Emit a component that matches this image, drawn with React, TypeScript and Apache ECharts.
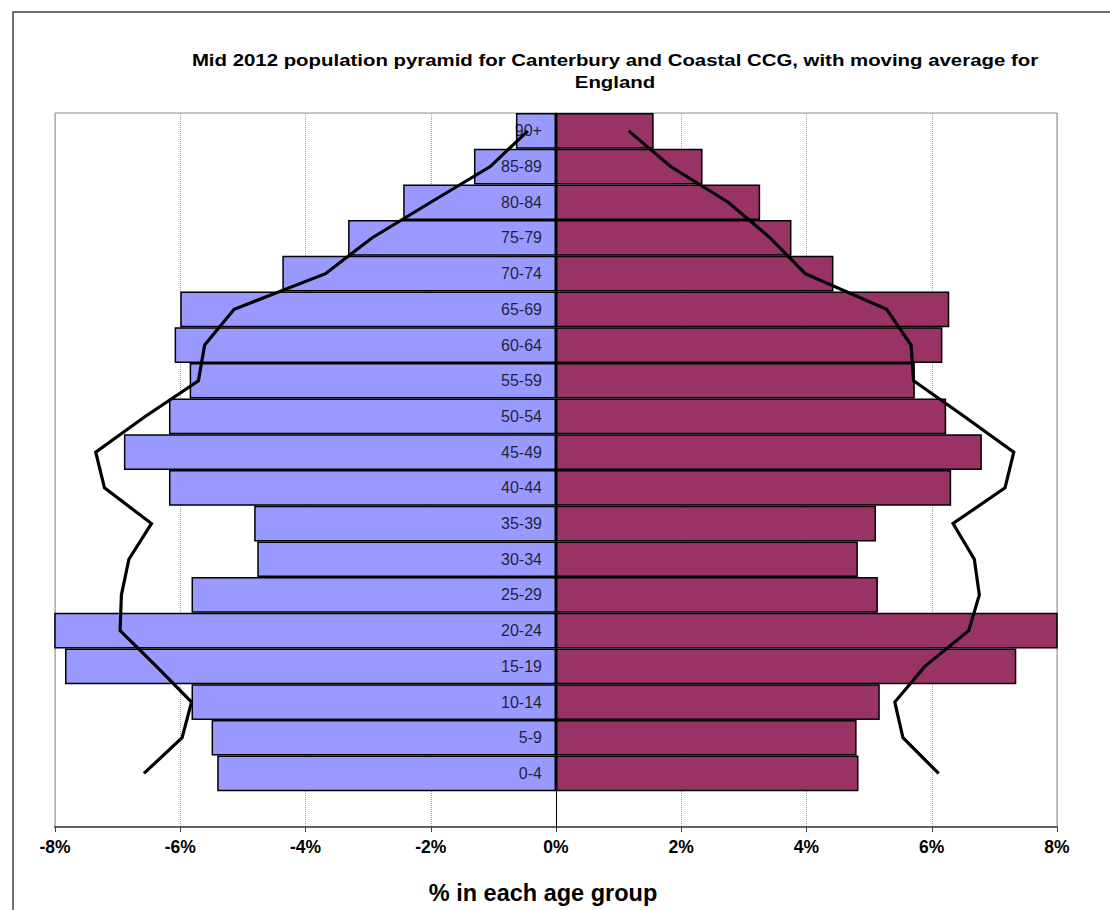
import React, { useEffect, useRef } from 'react';
import * as echarts from 'echarts';

const titleLines = [
  'Mid 2012 population pyramid for Canterbury and Coastal CCG, with moving average for',
  'England',
];
const axisTitle = '% in each age group';

const ageGroups = ['0-4', '5-9', '10-14', '15-19', '20-24', '25-29', '30-34', '35-39', '40-44', '45-49',
  '50-54', '55-59', '60-64', '65-69', '70-74', '75-79', '80-84', '85-89', '90+'];

// Canterbury and Coastal CCG, % in each age group (males negative)
const canterburyMale = [-5.41, -5.50, -5.82, -7.84, -8.4, -5.82, -4.77, -4.82, -6.18, -6.90,
  -6.18, -5.85, -6.09, -6.00, -4.37, -3.32, -2.44, -1.31, -0.64];
const canterburyFemale = [4.83, 4.80, 5.17, 7.35, 8.4, 5.14, 4.82, 5.11, 6.31, 6.80,
  6.23, 5.73, 6.17, 6.28, 4.43, 3.76, 3.26, 2.34, 1.56];

// England moving average
const englandMale = [-6.58, -5.97, -5.82, -6.38, -6.96, -6.94, -6.82, -6.46, -7.21, -7.35,
  -6.56, -5.71, -5.61, -5.14, -3.68, -2.94, -2.0, -1.05, -0.45];
const englandFemale = [6.11, 5.54, 5.41, 5.89, 6.59, 6.76, 6.68, 6.34, 7.17, 7.31,
  6.52, 5.71, 5.67, 5.28, 3.98, 3.42, 2.75, 1.83, 1.16];

const xMin = -8;
const xMax = 8;
const xStep = 2;

const FONT = '"Liberation Sans", Arial, sans-serif';

export default function App() {
  const ref = useRef<HTMLDivElement>(null);

  useEffect(() => {
    document.body.style.margin = '0';
    const chart = echarts.init(ref.current as HTMLDivElement, null, { renderer: 'svg' });
    const cats = ['', ...ageGroups];
    const pad = (a: number[]) => [null, ...a];

    chart.setOption({
      animation: false,
      backgroundColor: '#ffffff',
      textStyle: { fontFamily: FONT },
      grid: {
        left: 55,
        top: 113,
        width: 1002,
        height: 714,
        show: true,
        borderColor: '#8c8c8c',
        borderWidth: 1,
        containLabel: false,
      },
      xAxis: {
        type: 'value',
        min: xMin,
        max: xMax,
        interval: xStep,
        axisLine: { show: true, onZero: false, lineStyle: { color: '#606060', width: 2 } },
        axisTick: { show: true, length: 5, lineStyle: { color: '#404040', width: 1 } },
        axisLabel: {
          formatter: (v: number) => `${v}%`,
          color: '#000',
          fontWeight: 'bold',
          fontSize: 17.5,
          fontFamily: FONT,
          margin: 11,
        },
        splitLine: { show: true, lineStyle: { color: '#a0a0a0', type: [1, 1], width: 1 } },
      },
      yAxis: {
        type: 'category',
        data: cats,
        z: 3,
        axisLine: { show: true, onZero: true, lineStyle: { color: '#000', width: 1 } },
        axisTick: { show: false },
        axisLabel: { show: false },
        splitLine: { show: false },
      },
      series: [
        {
          name: 'Canterbury male',
          type: 'bar',
          data: pad(canterburyMale),
          barWidth: '100%',
          barGap: '-100%',
          barCategoryGap: '0%',
          z: 2,
          itemStyle: { color: '#9999ff', borderColor: '#000', borderWidth: 1.5 },
        },
        {
          name: 'Canterbury female',
          type: 'bar',
          data: pad(canterburyFemale),
          barWidth: '100%',
          barGap: '-100%',
          barCategoryGap: '0%',
          z: 2,
          itemStyle: { color: '#993366', borderColor: '#000', borderWidth: 1.5 },
        },
        {
          name: 'Age group labels',
          type: 'scatter',
          data: ageGroups.map((g) => [0, g]),
          symbolSize: 0.1,
          silent: true,
          z: 3,
          itemStyle: { color: 'rgba(0,0,0,0)' },
          label: {
            show: true,
            position: 'left',
            distance: 14,
            formatter: (p: any) => p.value[1],
            color: '#000',
            fontSize: 16,
            fontFamily: FONT,
          },
        },
        {
          name: 'England male',
          type: 'line',
          data: pad(englandMale),
          symbol: 'none',
          z: 4,
          lineStyle: { color: '#000', width: 3.2, join: 'miter', cap: 'butt' },
        },
        {
          name: 'England female',
          type: 'line',
          data: pad(englandFemale),
          symbol: 'none',
          z: 4,
          lineStyle: { color: '#000', width: 3.2, join: 'miter', cap: 'butt' },
        },
      ],
      graphic: [
        {
          type: 'rect',
          z: 100,
          shape: { x: 13, y: 12, width: 1200, height: 1000 },
          style: { fill: 'none', stroke: '#404040', lineWidth: 1.5 },
        },
        {
          type: 'text',
          x: 615,
          y: 60,
          scaleX: 1.2,
          style: {
            text: titleLines[0],
            textAlign: 'center',
            textVerticalAlign: 'middle',
            font: `bold 17px ${FONT}`,
            fill: '#000',
          },
        },
        {
          type: 'text',
          x: 615,
          y: 82,
          scaleX: 1.2,
          style: {
            text: titleLines[1],
            textAlign: 'center',
            textVerticalAlign: 'middle',
            font: `bold 17px ${FONT}`,
            fill: '#000',
          },
        },
        {
          type: 'text',
          x: 543,
          y: 893,
          style: {
            text: axisTitle,
            textAlign: 'center',
            textVerticalAlign: 'middle',
            font: `bold 23.5px ${FONT}`,
            fill: '#000',
          },
        },
      ],
    });

    return () => chart.dispose();
  }, []);

  return <div ref={ref} style={{ width: 1110, height: 910 }} />;
}
